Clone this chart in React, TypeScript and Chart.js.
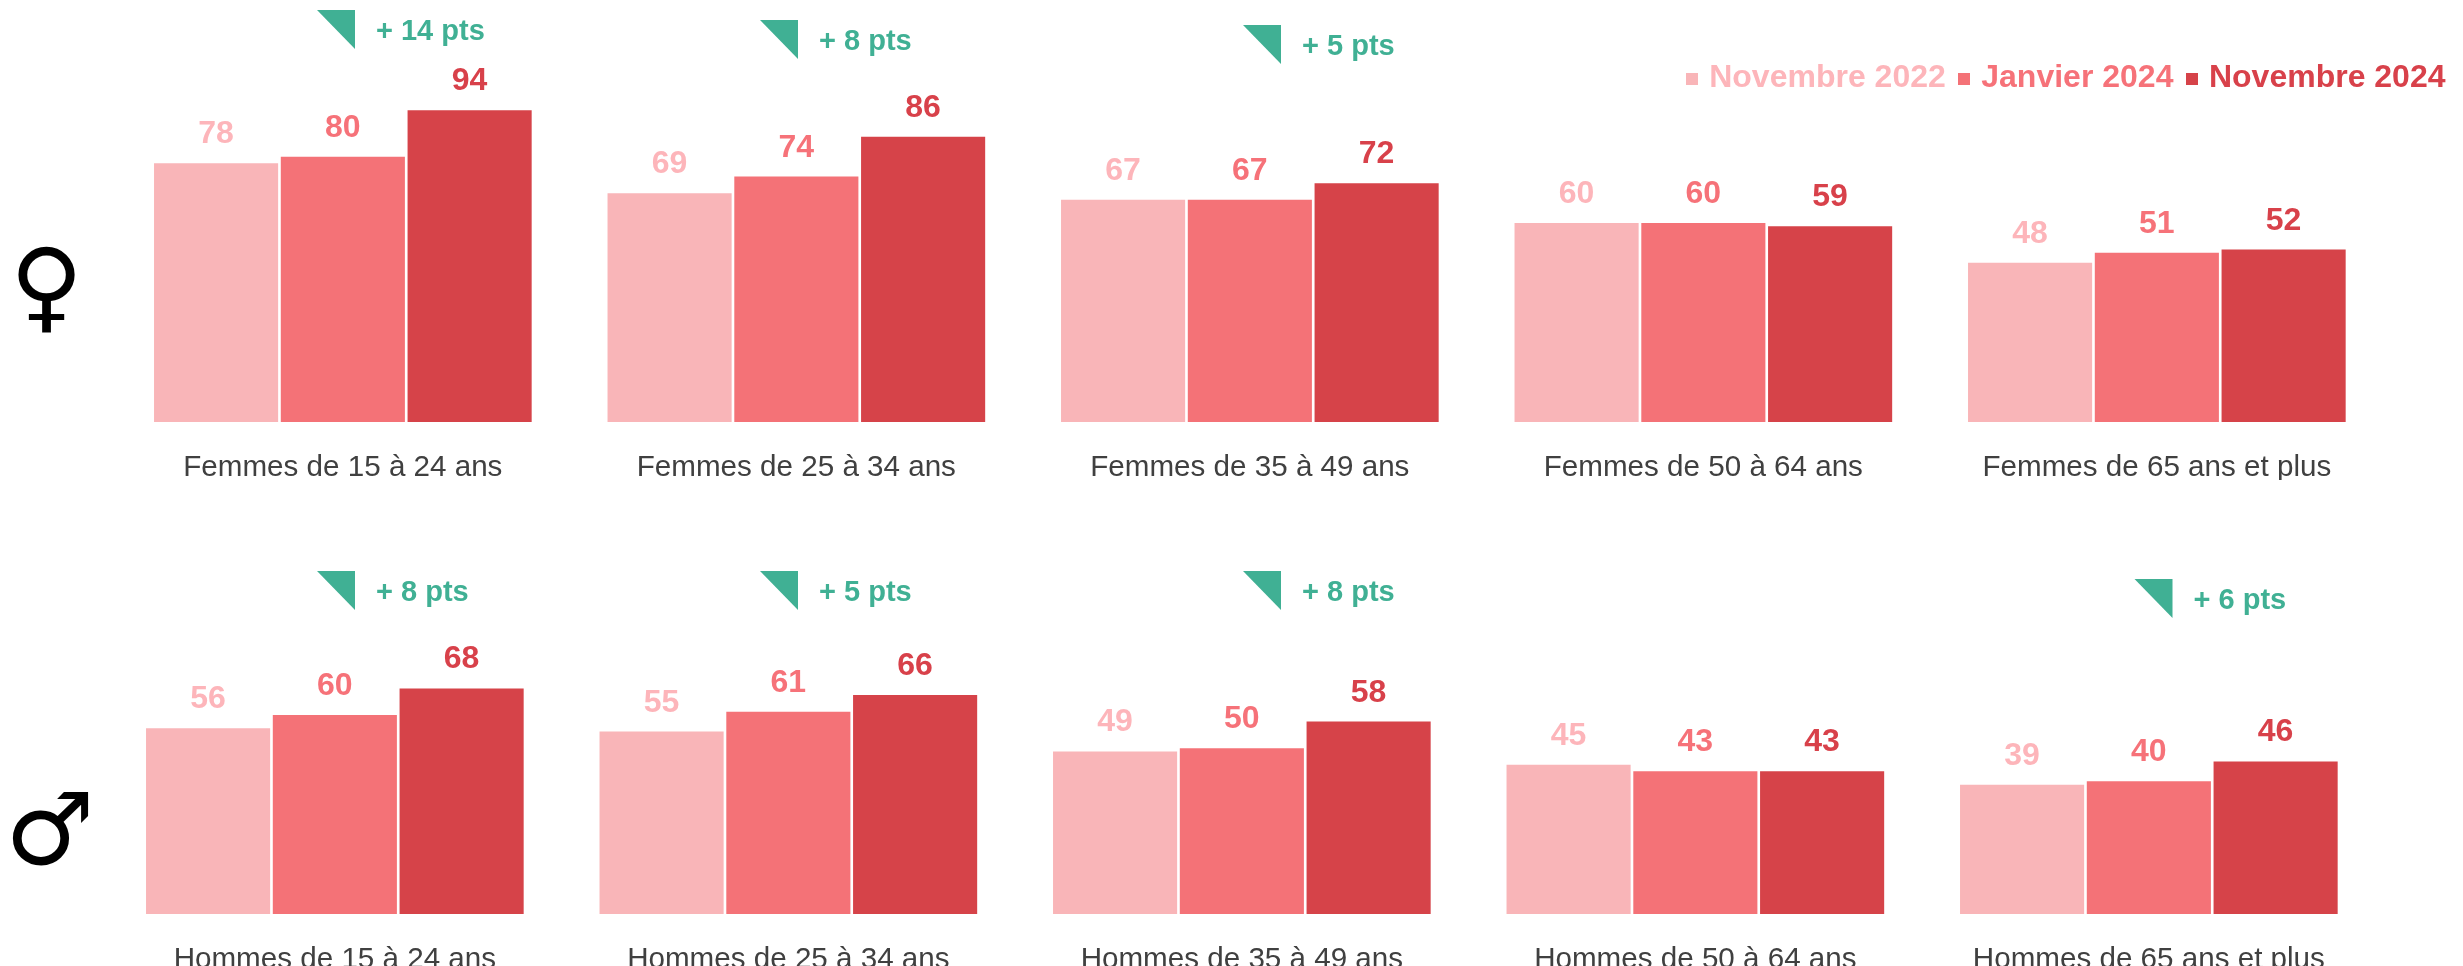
import React, { useEffect, useRef } from "react";
import { Chart, registerables } from "chart.js";

Chart.register(...registerables);

// ---- data ----
const seriesNames = ["Novembre 2022", "Janvier 2024", "Novembre 2024"];
const femmesCategories = ["Femmes de 15 à 24 ans", "Femmes de 25 à 34 ans", "Femmes de 35 à 49 ans", "Femmes de 50 à 64 ans", "Femmes de 65 ans et plus"];
const hommesCategories = ["Hommes de 15 à 24 ans", "Hommes de 25 à 34 ans", "Hommes de 35 à 49 ans", "Hommes de 50 à 64 ans", "Hommes de 65 ans et plus"];
const femmesNov2022 = [78, 69, 67, 60, 48];
const femmesJan2024 = [80, 74, 67, 60, 51];
const femmesNov2024 = [94, 86, 72, 59, 52];
const hommesNov2022 = [56, 55, 49, 45, 39];
const hommesJan2024 = [60, 61, 50, 43, 40];
const hommesNov2024 = [68, 66, 58, 43, 46];
const femmesDeltas = ["+ 14 pts", "+ 8 pts", "+ 5 pts", "", ""];
const hommesDeltas = ["+ 8 pts", "+ 5 pts", "+ 8 pts", "", "+ 6 pts"];

// ---- styles and layout ----
const barColors = ["#F9B5B8", "#F47277", "#D64349"];
const labelColors = ["#FDB5BA", "#F67279", "#D8414A"];
const green = "#40B094";
const PX_PER_UNIT = 3.317;
const PANEL_W = 380.3;
const topPanelX = [152.7, 606.2, 1059.7, 1513.2, 1966.7];
const bottomPanelX = topPanelX.map((x) => x - 8);
const FONT = '"Liberation Sans", Arial, sans-serif';
// right-angle corner (page x, page y) of each change marker
const femmesMarkers = [[355, 10], [798, 20], [1281, 25], null, null];
const hommesMarkers = [[355, 571], [798, 571], [1281, 571], null, [2172.5, 579]];

const row = {
  top: { canvasTop: 0, canvasH: 480, axisH: 58 },
  bottom: { canvasTop: 540, canvasH: 426, axisH: 52 },
};

const panelPlugin = {
  id: "panelText",
  afterDatasetsDraw(chart: any, _a: any, o: any) {
    const ctx = chart.ctx;
    ctx.save();
    ctx.font = `bold 32px ${FONT}`;
    ctx.textAlign = "center";
    ctx.textBaseline = "alphabetic";
    chart.data.datasets.forEach((ds: any, i: number) => {
      const el = chart.getDatasetMeta(i).data[0];
      ctx.fillStyle = labelColors[i];
      ctx.fillText(String(ds.data[0]), el.x, el.y - 20);
    });
    if (o.marker) {
      const mx = o.marker[0] - o.left;
      const my = o.marker[1] - o.top;
      ctx.fillStyle = green;
      ctx.beginPath();
      ctx.moveTo(mx - 38, my);
      ctx.lineTo(mx, my);
      ctx.lineTo(mx, my + 39);
      ctx.closePath();
      ctx.fill();
      ctx.font = `bold 29px ${FONT}`;
      ctx.textAlign = "left";
      ctx.textBaseline = "middle";
      ctx.fillText(o.delta, mx + 21, my + 22);
    }
    ctx.restore();
  },
};

function Panel({ x, r, category, values, delta, marker }: any) {
  const ref = useRef<HTMLCanvasElement>(null);
  const left = Math.floor(x - 40);
  const width = 453;
  useEffect(() => {
    const plotH = r.canvasH - r.axisH;
    const chart = new Chart(ref.current!, {
      type: "bar",
      data: {
        labels: [category],
        datasets: values.map((v: number, i: number) => ({
          label: seriesNames[i],
          data: [v],
          backgroundColor: barColors[i],
          barPercentage: 0.979,
          categoryPercentage: 1,
        })),
      },
      options: {
        animation: false,
        responsive: false,
        devicePixelRatio: 1,
        layout: { padding: { left: x - left, right: width - (x - left) - PANEL_W, top: 0, bottom: 0 } },
        plugins: {
          legend: { display: false },
          tooltip: { enabled: false },
          panelText: { delta, marker, left, top: r.canvasTop },
        },
        scales: {
          x: {
            grid: { display: false },
            border: { display: false },
            afterFit: (s: any) => { s.height = r.axisH; },
            ticks: {
              padding: 20,
              color: "#404040",
              maxRotation: 0,
              autoSkip: false,
              font: { family: FONT, size: 29.6 },
            },
          },
          y: { display: false, min: 0, max: plotH / PX_PER_UNIT },
        },
      } as any,
      plugins: [panelPlugin],
    });
    return () => chart.destroy();
  }, []);
  return (
    <canvas
      ref={ref}
      width={width}
      height={r.canvasH}
      style={{ position: "absolute", left, top: r.canvasTop, width, height: r.canvasH }}
    />
  );
}

function swatch(color: string) {
  const c = document.createElement("canvas");
  c.width = 12;
  c.height = 12;
  const g = c.getContext("2d")!;
  g.fillStyle = color;
  g.fillRect(0, 0, 12, 12);
  return c;
}

function LegendChart() {
  const ref = useRef<HTMLCanvasElement>(null);
  useEffect(() => {
    const chart = new Chart(ref.current!, {
      type: "bar",
      data: {
        labels: [],
        datasets: seriesNames.map((n, i) => ({ label: n, data: [], backgroundColor: barColors[i] })),
      },
      options: {
        animation: false,
        responsive: false,
        devicePixelRatio: 1,
        scales: { x: { display: false }, y: { display: false } },
        plugins: {
          tooltip: { enabled: false },
          legend: {
            position: "top",
            align: "end",
            labels: {
              usePointStyle: true,
              pointStyleWidth: 2,
              boxHeight: 12,
              padding: 17.5,
              font: { family: FONT, size: 32, weight: "bold" },
              generateLabels: () =>
                seriesNames.map((n, i) => ({
                  text: n,
                  fontColor: labelColors[i],
                  pointStyle: swatch(barColors[i]),
                  hidden: false,
                  datasetIndex: i,
                })),
            },
          },
        },
      } as any,
    });
    return () => chart.destroy();
  }, []);
  return <canvas ref={ref} width={803} height={90} style={{ position: "absolute", left: 1660, top: 45, width: 803, height: 90 }} />;
}

function symbolStyle(left: number, top: number, size: number): React.CSSProperties {
  return {
    position: "absolute",
    left,
    top,
    fontFamily: '"DejaVu Sans"',
    fontWeight: "bold",
    fontSize: size,
    lineHeight: `${size}px`,
    color: "#000",
  };
}

export default function App() {
  return (
    <div style={{ position: "absolute", left: 0, top: 0, width: 2463, height: 966, overflow: "hidden", background: "#fff" }}>
      <span style={symbolStyle(10, 236, 100)}>♀</span>
      <span style={symbolStyle(5, 780, 100)}>♂</span>
      {femmesCategories.map((c, i) => (
        <Panel key={c} x={topPanelX[i]} r={row.top} category={c}
          values={[femmesNov2022[i], femmesJan2024[i], femmesNov2024[i]]}
          delta={femmesDeltas[i]} marker={femmesMarkers[i]} />
      ))}
      {hommesCategories.map((c, i) => (
        <Panel key={c} x={bottomPanelX[i]} r={row.bottom} category={c}
          values={[hommesNov2022[i], hommesJan2024[i], hommesNov2024[i]]}
          delta={hommesDeltas[i]} marker={hommesMarkers[i]} />
      ))}
      <LegendChart />
    </div>
  );
}
